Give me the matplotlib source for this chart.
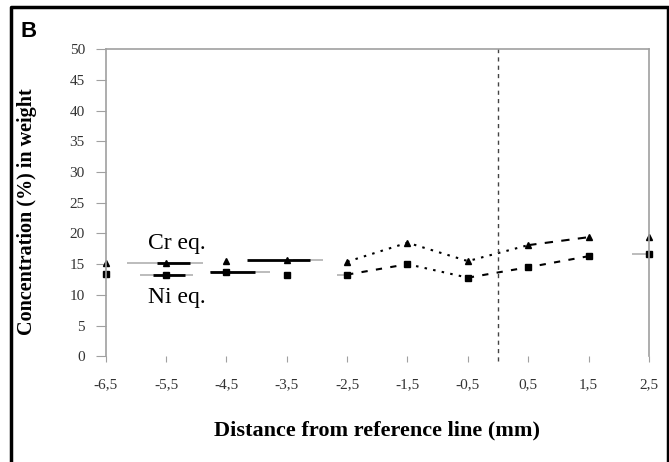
import matplotlib
matplotlib.use("Agg")
import matplotlib.pyplot as plt
from matplotlib.lines import Line2D

# distance from reference line (mm)
distance = [-6.5, -5.5, -4.5, -3.5, -2.5, -1.5, -0.5, 0.5, 1.5, 2.5]
tick_labels = ["-6,5", "-5,5", "-4,5", "-3,5", "-2,5", "-1,5", "-0,5", "0,5", "1,5", "2,5"]

# concentration (% in weight)
cr_eq = [15.2, 15.2, 15.5, 15.7, 15.4, 18.5, 15.5, 18.1, 19.4, 19.4]
ni_eq = [13.4, 13.2, 13.8, 13.2, 13.3, 15.0, 12.8, 14.5, 16.3, 16.6]

# horizontal range bars around some points (start, end, level)
cr_range_start = [-6.15, -3.40]
cr_range_end = [-4.89, -2.90]
cr_range_y = [15.2, 15.7]
cr_core_start = [-5.65, -4.16]
cr_core_end = [-5.10, -3.11]

ni_range_start = [-5.93, -4.77, -2.67, 2.22]
ni_range_end = [-5.05, -3.77, -2.43, 2.50]
ni_range_y = [13.2, 13.8, 13.3, 16.6]
ni_core_start = [-5.72, -4.77]
ni_core_end = [-5.18, -4.02]
ni_core_y = [13.2, 13.8]

reference_line = 0.0

serif = "Liberation Serif"

fig = plt.figure(figsize=(6.69, 4.62), dpi=100)
ax = fig.add_axes([0.158, 0.229, 0.812, 0.664])

# range bars (grey long, black short)
ax.hlines(cr_range_y, cr_range_start, cr_range_end, color="#b0b0b0", lw=1.2)
ax.hlines(ni_range_y, ni_range_start, ni_range_end, color="#b0b0b0", lw=1.2)
ax.hlines(cr_range_y, cr_core_start, cr_core_end, color="black", lw=2)
ax.hlines(ni_core_y, ni_core_start, ni_core_end, color="black", lw=2)

# connecting lines, style changes along the profile
ax.plot(distance[4:8], cr_eq[4:8], color="black", lw=1.5, ls=(0, (1.2, 3)))
ax.plot(distance[7:9], cr_eq[7:9], color="black", lw=1.5, ls=(0, (4, 4)))
ax.plot(distance[4:6], ni_eq[4:6], color="black", lw=1.5, ls=(0, (3, 4)))
ax.plot(distance[5:7], ni_eq[5:7], color="black", lw=1.5, ls=(0, (1.2, 3)))
ax.plot(distance[6:9], ni_eq[6:9], color="black", lw=1.5, ls=(0, (3, 4)))

# markers
ax.plot(distance, cr_eq, ls="none", marker="^", ms=4.5, color="black", clip_on=False)
ax.plot(distance, ni_eq, ls="none", marker="s", ms=4.5, color="black", clip_on=False)

# reference line
ax.axvline(reference_line, ymin=-0.015, ymax=1.01, color="#444444", lw=1,
           ls=(0, (3, 3)), clip_on=False)

ax.text(-5.33, 18.3, "Cr eq.", family=serif, fontsize=17, ha="center", va="center")
ax.text(-5.33, 9.6, "Ni eq.", family=serif, fontsize=17, ha="center", va="center")

ax.set_xlim(-6.5, 2.5)
ax.set_ylim(0, 50)
ax.set_xticks(distance)
ax.set_xticklabels(tick_labels)
ax.set_yticks(range(0, 51, 5))

for side in ["left", "right", "top"]:
    ax.spines[side].set_color("#a0a0a0")
    ax.spines[side].set_linewidth(1.2)
ax.spines["bottom"].set_visible(False)

ax.tick_params(axis="y", direction="out", length=7, color="#a0a0a0", pad=8,
               labelsize=11, labelcolor="#333333")
ax.tick_params(axis="x", direction="out", length=4, color="#a0a0a0", pad=12,
               labelsize=11, labelcolor="#333333")
for lab in ax.get_xticklabels() + ax.get_yticklabels():
    lab.set_family(serif)

ax.set_xlabel("Distance from reference line (mm)", family=serif, fontsize=16,
              fontweight="bold")
ax.set_ylabel("Concentration (%) in weight", family=serif, fontsize=14.5,
              fontweight="bold")
ax.xaxis.set_label_coords(0.5, -0.241)
ax.yaxis.set_label_coords(-0.145, 0.47)
ax.xaxis.label.set_va("center")
ax.yaxis.label.set_va("center")

fig.text(0.030, 0.955, "B", family="Liberation Sans", fontsize=16,
         fontweight="bold", ha="left", va="top")

# outer frame: left, top, right
frame = Line2D([0.016, 0.016, 0.998, 0.998], [-0.01, 0.984, 0.984, -0.01],
               transform=fig.transFigure, color="black", lw=2.5)
fig.add_artist(frame)

fig.savefig("out.png", dpi=100)
